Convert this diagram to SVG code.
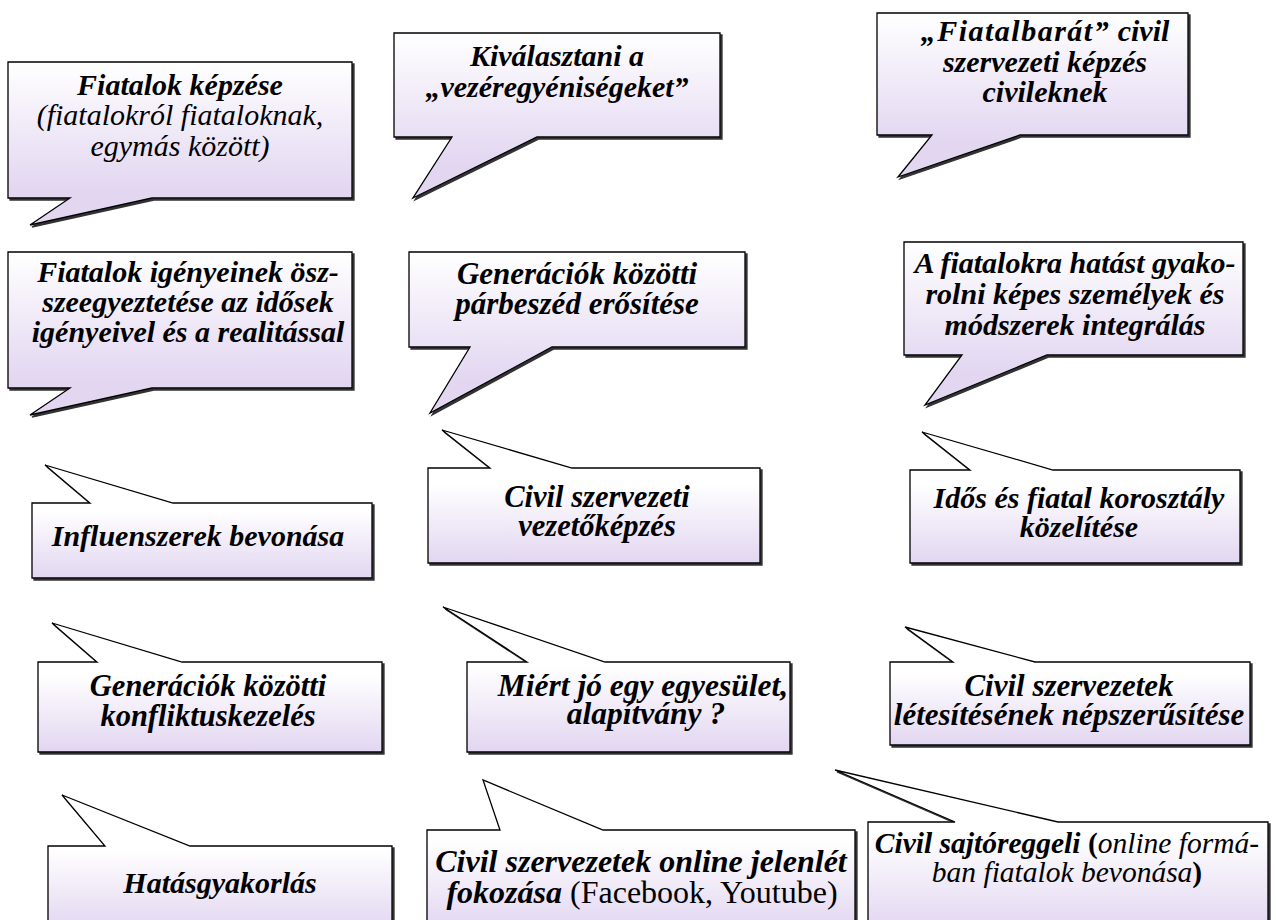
<svg xmlns="http://www.w3.org/2000/svg" width="1276" height="920" viewBox="0 0 1276 920">
<style>
.box{stroke:#000;stroke-width:1.3;stroke-linejoin:miter;filter:url(#sh)}
.dn{fill:url(#gDown)}
.up{fill:url(#gUp)}
text{font-family:"Liberation Serif","Times New Roman",serif;font-size:30px;fill:#000;text-anchor:middle}
.bi{font-weight:bold;font-style:italic}
.i{font-style:italic}
.r{font-style:normal;font-weight:normal}
</style>
<defs>
<linearGradient id="gDown" x1="0" y1="0" x2="0" y2="1">
<stop offset="0" stop-color="#ffffff"/>
<stop offset="0.8" stop-color="#e2d6f1"/>
<stop offset="1" stop-color="#e2d6f1"/>
</linearGradient>
<linearGradient id="gUp" x1="0" y1="0" x2="0" y2="1">
<stop offset="0" stop-color="#ffffff"/>
<stop offset="0.4" stop-color="#ffffff"/>
<stop offset="1" stop-color="#e2d6f1"/>
</linearGradient>
<filter id="sh" x="-5%" y="-5%" width="115%" height="120%">
<feOffset in="SourceAlpha" dx="2" dy="2" result="o"/>
<feFlood flood-color="#333333"/>
<feComposite in2="o" operator="in"/>
<feMerge><feMergeNode/><feMergeNode in="SourceGraphic"/></feMerge>
</filter>
</defs>

<g id="c1">
<path class="box dn" d="M8,62 H352 V198 H152 L30,225 L70,198 H8 Z"/>
<text x="180" y="95" class="bi">Fiatalok képzése</text>
<text x="180" y="125" class="i">(fiatalokról fiataloknak,</text>
<text x="180" y="156" class="i">egymás között)</text>
</g>

<g id="c2">
<path class="box dn" d="M394,33 H720 V137 H537 L413,198 L452,137 H394 Z"/>
<text x="557" y="66" class="bi">Kiválasztani a</text>
<text x="557" y="97" class="bi">„vezéregyéniségeket”</text>
</g>

<g id="c3">
<path class="box dn" d="M877,13 H1188 V135 H1020 L898,177 L932,135 H877 Z"/>
<text x="1045" y="41" class="bi"><tspan letter-spacing="1.5">„Fiatalbarát”</tspan> civil</text>
<text x="1045" y="72" class="bi">szervezeti képzés</text>
<text x="1045" y="102" class="bi">civileknek</text>
</g>

<g id="c4">
<path class="box dn" d="M8,252 H352 V388 H152 L30,415 L70,388 H8 Z"/>
<text x="188" y="282" class="bi">Fiatalok igényeinek ösz-</text>
<text x="188" y="312" class="bi">szeegyeztetése az idősek</text>
<text x="188" y="342" class="bi">igényeivel és a realitással</text>
</g>

<g id="c5">
<path class="box dn" d="M409,252 H745 V347 H552 L430,413 L470,347 H409 Z"/>
<text x="577" y="284" class="bi" style="font-size:31px">Generációk közötti</text>
<text x="577" y="314" class="bi" style="font-size:31px">párbeszéd erősítése</text>
</g>

<g id="c6">
<path class="box dn" d="M904,242 H1243 V355 H1047 L925,405 L962,355 H904 Z"/>
<text x="1075" y="273" class="bi">A fiatalokra hatást gyako-</text>
<text x="1075" y="304" class="bi">rolni képes személyek és</text>
<text x="1075" y="335" class="bi">módszerek integrálás</text>
</g>

<g id="c7">
<path class="box up" d="M32,503 H90 L45,465 L173,503 H372 V578 H32 Z"/>
<text x="198" y="546" class="bi">Influenszerek bevonása</text>
</g>

<g id="c8">
<path class="box up" d="M428,468 H490 L442,430 L572,468 H760 V563 H428 Z"/>
<text x="597" y="507" class="bi" style="font-size:30.5px">Civil szervezeti</text>
<text x="597" y="536" class="bi" style="font-size:30.5px">vezetőképzés</text>
</g>

<g id="c9">
<path class="box up" d="M910,470 H970 L922,432 L1053,470 H1240 V563 H910 Z"/>
<text x="1079" y="508" class="bi">Idős és fiatal korosztály</text>
<text x="1079" y="537" class="bi">közelítése</text>
</g>

<g id="c10">
<path class="box up" d="M38,662 H97 L52,623 L182,662 H382 V752 H38 Z"/>
<text x="208" y="696" class="bi" style="font-size:30.5px">Generációk közötti</text>
<text x="208" y="726" class="bi" style="font-size:30.5px">konfliktuskezelés</text>
</g>

<g id="c11">
<path class="box up" d="M467,662 H527 L443,607 L605,662 H790 V752 H467 Z"/>
<text x="643" y="696" class="bi" style="font-size:31.5px">Miért jó egy egyesület,</text>
<text x="646" y="724" class="bi" style="font-size:31.5px">alapítvány ?</text>
</g>

<g id="c12">
<path class="box up" d="M890,662 H953 L905,627 L1035,662 H1250 V745 H890 Z"/>
<text x="1069" y="696" class="bi" style="font-size:31px">Civil szervezetek</text>
<text x="1069" y="725" class="bi" style="font-size:31px">létesítésének népszerűsítése</text>
</g>

<g id="c13">
<path class="box up" d="M48,846 H105 L62,795 L190,846 H392 V930 H48 Z"/>
<text x="220" y="893" class="bi">Hatásgyakorlás</text>
</g>

<g id="c14">
<path class="box up" d="M427,830 H500 L483,780 L603,830 H855 V930 H427 Z"/>
<text x="641" y="872" class="bi" style="font-size:32px">Civil szervezetek online jelenlét</text>
<text x="642" y="903" style="font-size:32px"><tspan class="bi">fokozása</tspan> <tspan class="r">(Facebook, Youtube)</tspan></text>
</g>

<g id="c15">
<path class="box up" d="M868,822 H955 L835,770 L1058,822 H1268 V930 H868 Z"/>
<text x="1067" y="853" style="font-size:29.5px"><tspan class="bi">Civil sajtóreggeli</tspan> <tspan font-weight="bold">(</tspan><tspan class="i">online formá-</tspan></text>
<text x="1067" y="882" style="font-size:29.5px"><tspan class="i">ban fiatalok bevonása</tspan><tspan font-weight="bold">)</tspan></text>
</g>

<g id="connectors"/>
</svg>
